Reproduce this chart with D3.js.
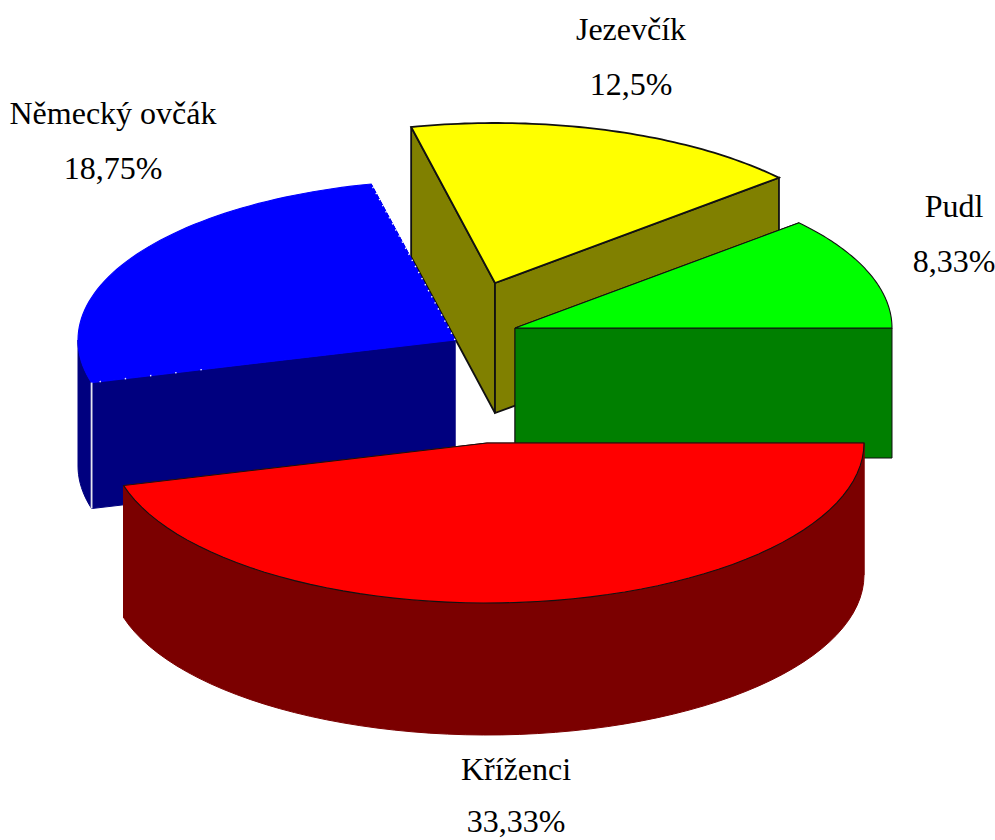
<!DOCTYPE html>
<html>

<head>
  <meta charset="utf-8">
  <title>Plemena psů</title>
  <style type="text/css">
    html, body { margin: 0; padding: 0; background: #fff; }
    svg { display: block; }
    .label { font-family: "Liberation Serif", "Times New Roman", serif; font-size: 32px; fill: #000; text-anchor: middle; }
  </style>
  <script src="https://cdn.jsdelivr.net/npm/d3@7/dist/d3.min.js"></script>
</head>

<body>
  <script>
    // values as printed on the chart, clockwise from the right edge
    var categories = ["Kříženci", "Německý ovčák", "Jezevčík", "Pudl"];
    var percents = [33.33, 18.75, 12.5, 8.33];
    var percentLabels = ["33,33%", "18,75%", "12,5%", "8,33%"];

    var topColors = ["#ff0000", "#0000ff", "#ffff00", "#00ff00"];
    var wallColors = ["#7b0000", "#00007f", "#808000", "#007f00"];

    // apex of each exploded slice in page pixels, and its wall height
    var apexX = [487, 455, 495, 515];
    var apexY = [443, 340, 283, 328];
    var depths = [132, 126, 130, 130];
    // label centres and baselines
    var labelX = [516, 113, 631, 954];
    var nameY = [780, 124, 40, 217];
    var percentY = [832, 179, 95, 272];

    var width = 995, height = 840,
      rx = 377, ry = 160;

    var svg = d3.select("body").append("svg")
      .attr("width", width)
      .attr("height", height);

    var pie = d3.pie().sort(null)
      .startAngle(Math.PI / 2)
      .endAngle(Math.PI * 5 / 2);

    var slices = pie(percents).map(function (d, i) {
      return {
        arc: d,
        i: i,
        x: d3.scaleLinear().domain([-1, 1]).range([apexX[i] - rx, apexX[i] + rx]),
        y: d3.scaleLinear().domain([-1, 1]).range([apexY[i] - ry, apexY[i] + ry])
      };
    });

    var line = d3.line();

    function angles(s) {
      return d3.range(0, 61).map(function (k) {
        return s.arc.startAngle + (s.arc.endAngle - s.arc.startAngle) * k / 60;
      });
    }

    function project(s, a) {
      return [s.x(Math.sin(a)), s.y(-Math.cos(a))];
    }

    // draw back to front so nearer slices cover the others
    var order = [2, 1, 3, 0];

    order.forEach(function (idx) {
      var s = slices[idx],
        depth = depths[idx],
        all = angles(s),
        pts = all.map(function (a) { return project(s, a); }),
        // only the part of the rim facing the viewer has a wall
        front = all.filter(function (a) { return Math.cos(a) <= 1e-9; })
          .map(function (a) { return project(s, a); }),
        apex = [s.x(0), s.y(0)],
        first = pts[0],
        last = pts[pts.length - 1],
        g = svg.append("g");

      function drop(p) { return [p[0], p[1] + depth]; }

      // the two cut faces
      [first, last].forEach(function (p) {
        g.append("path")
          .attr("d", line([apex, p, drop(p), drop(apex)]) + "Z")
          .attr("fill", wallColors[idx])
          .attr("stroke", idx === 2 || idx === 3 ? "#111" : wallColors[idx])
          .attr("stroke-width", idx === 2 ? 1.8 : 1);
      });

      // outer wall
      if (front.length > 1) {
        g.append("path")
          .attr("d", line(front.concat(front.map(drop).reverse())) + "Z")
          .attr("fill", wallColors[idx])
          .attr("stroke", wallColors[idx])
          .attr("stroke-width", 1);
      }

      // top face
      g.append("path")
        .attr("d", line([apex].concat(pts)) + "Z")
        .attr("fill", topColors[idx])
        .attr("stroke", idx === 1 ? topColors[idx] : "#111")
        .attr("stroke-width", idx === 2 ? 1.8 : 1.1);

      // white specks left over along the blue slice
      if (idx === 1) {
        g.append("path")
          .attr("d", line([apex, last]))
          .attr("fill", "none")
          .attr("stroke", "#fff")
          .attr("stroke-width", 1.4)
          .attr("stroke-dasharray", "1.4 5.5");
        g.append("path")
          .attr("d", line([first, d3.interpolateArray(first, apex)(0.33)]))
          .attr("fill", "none")
          .attr("stroke", "#e8e8ff")
          .attr("stroke-width", 1.4)
          .attr("stroke-dasharray", "1.4 24")
          .attr("stroke-dashoffset", -8);
        g.append("path")
          .attr("d", line([first, drop(first)]))
          .attr("fill", "none")
          .attr("stroke", "#e4e4f0")
          .attr("stroke-width", 1.8);
      }
    });

    svg.selectAll("text.name")
      .data(categories)
      .join("text")
      .attr("class", "label name")
      .attr("x", function (d, i) { return labelX[i]; })
      .attr("y", function (d, i) { return nameY[i]; })
      .text(function (d) { return d; });

    svg.selectAll("text.pct")
      .data(percentLabels)
      .join("text")
      .attr("class", "label pct")
      .attr("x", function (d, i) { return labelX[i]; })
      .attr("y", function (d, i) { return percentY[i]; })
      .text(function (d) { return d; });
  </script>
</body>

</html>
